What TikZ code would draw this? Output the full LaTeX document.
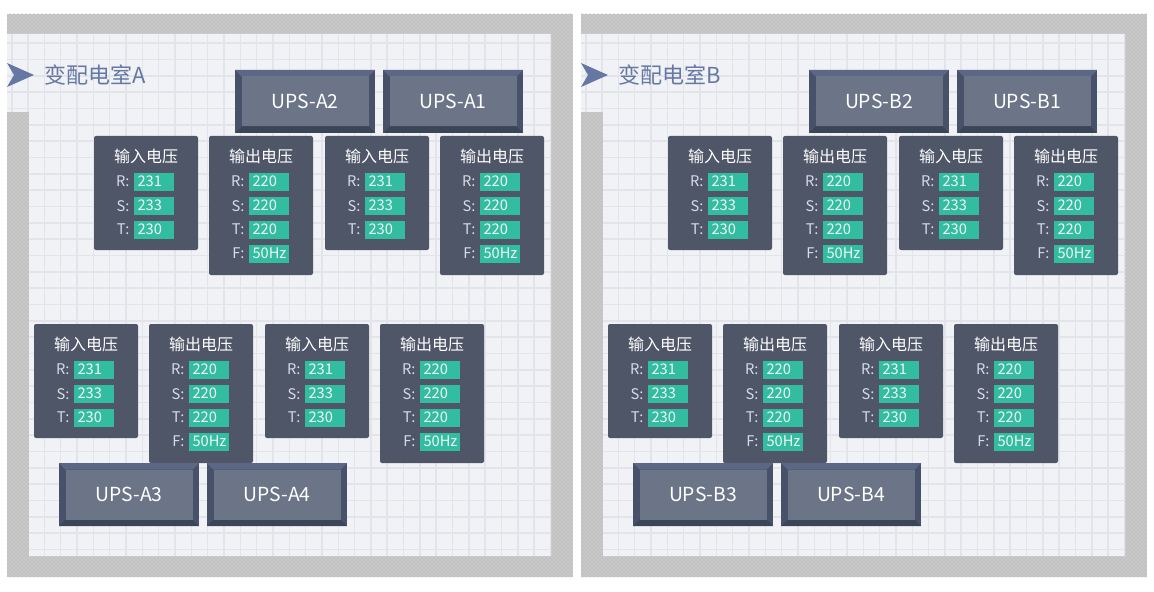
\documentclass[tikz,border=0pt]{standalone}
\usepackage{fontspec}
\setmainfont{Noto Sans CJK SC}
\usetikzlibrary{patterns}

\definecolor{wallgray}{RGB}{201,201,201}
\definecolor{hatchgray}{RGB}{168,168,168}
\definecolor{floorbg}{RGB}{241,242,246}
\definecolor{gridline}{RGB}{226,228,234}
\definecolor{titleblue}{RGB}{101,119,163}
\definecolor{panelbg}{RGB}{78,86,104}
\definecolor{valgreen}{RGB}{50,189,161}
\definecolor{valtext}{RGB}{240,246,245}
\definecolor{labtext}{RGB}{216,221,229}
\definecolor{upsface}{RGB}{108,117,136}
\definecolor{upstop}{RGB}{91,103,132}
\definecolor{upsside}{RGB}{71,82,106}
\definecolor{upsbottom}{RGB}{59,69,88}

\tikzset{every picture/.style={line width=0.75pt}}
\tikzset{
  wall/.style={fill=wallgray, postaction={pattern=crosshatch dots, pattern color=hatchgray}},
  floor/.style={fill=floorbg},
  gridline/.style={draw=gridline, line width=1.2pt},
  roomtitle/.style={anchor=west, inner sep=0pt, text=titleblue, font=\fontsize{16.5}{19}\selectfont},
  panel/.style={fill=panelbg, rounded corners=1.5pt},
  paneltitle/.style={inner sep=0pt, text=white, font=\fontsize{12}{14}\selectfont},
  rowlabel/.style={anchor=east, inner sep=0pt, text=labtext, font=\fontsize{11}{13}\selectfont},
  valbox/.style={anchor=west, fill=valgreen, text=valtext, inner xsep=3pt, inner ysep=0pt,
    text width=24pt, minimum height=13.5pt, align=left, font=\fontsize{11}{13}\selectfont},
  upslabel/.style={inner sep=0pt, text=white, font=\fontsize{14.5}{17}\selectfont}
}

\begin{document}
\begin{tikzpicture}[x=0.75pt,y=0.75pt,yscale=-1,xscale=1]
\useasboundingbox (0,0) rectangle (1154,592);

\foreach \room/\dx in {A/0,B/574}{
\begin{scope}[shift={(\dx,0)}]
% Walls
\fill[wall] (7,14) rectangle (573,577);
\fill[floor] (7,34) -- (551,34) -- (551,556) -- (29,556) -- (29,112) -- (7,112) -- cycle;
% Floor grid
\begin{scope}
\clip (7,34) -- (551,34) -- (551,556) -- (29,556) -- (29,112) -- (7,112) -- cycle;
\foreach \gx in {11.7,28.03,...,551} \draw[gridline] (\gx,34) -- (\gx,556);
\foreach \gy in {26.97,43.3,...,556} \draw[gridline] (7,\gy) -- (551,\gy);
\end{scope}
% Room title
\fill[titleblue] (7,63) -- (34,75) -- (7,87) -- (14,75) -- cycle;
\node[roomtitle] (title\room) at (44,75) {变配电室\room};
% Input voltage panels
\foreach \px/\py/\k in {94/136/1,325/136/3,34/324/5,265/324/7}{
  \fill[panel] (\px,\py) rectangle ++(104,114);
  \node[paneltitle] (in\room\k) at (\px+52,\py+20) {输入电压};
  \foreach \lab/\val [count=\i] in {R/231,S/233,T/230}{
    \node[valbox] (in\room\k-\lab) at (\px+39,\py+21.7+24*\i) {\val};
    \node[rowlabel] (in\room\k-\lab l) at (\px+36,\py+21.7+24*\i) {\lab:};
  }
}
% Output voltage panels
\foreach \px/\py/\k in {209/136/2,440/136/4,149/324/6,380/324/8}{
  \fill[panel] (\px,\py) rectangle ++(104,139);
  \node[paneltitle] (out\room\k) at (\px+52,\py+20) {输出电压};
  \foreach \lab/\val [count=\i] in {R/220,S/220,T/220,F/50Hz}{
    \node[valbox] (out\room\k-\lab) at (\px+39,\py+21.7+24*\i) {\val};
    \node[rowlabel] (out\room\k-\lab l) at (\px+36,\py+21.7+24*\i) {\lab:};
  }
}
% UPS cabinets
\foreach \ux/\uy/\n in {235/70/2,383/70/1,59/463/3,207/463/4}{
  \fill[upsside] (\ux,\uy) rectangle ++(140,63);
  \fill[upstop] (\ux,\uy) -- ++(140,0) -- ++(-6.5,6.5) -- ++(-127,0) -- cycle;
  \fill[upsbottom] (\ux,\uy+63) -- ++(140,0) -- ++(-6.5,-6.5) -- ++(-127,0) -- cycle;
  \fill[upsface] (\ux+6.5,\uy+6.5) rectangle ++(127,50);
  \node[upslabel] (ups\room\n) at (\ux+70,\uy+31.5) {UPS-\room\n};
}
\end{scope}
}

\end{tikzpicture}
\end{document}
